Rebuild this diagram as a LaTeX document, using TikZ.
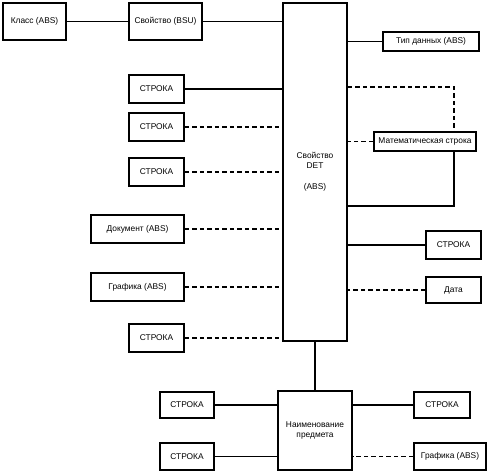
\documentclass[tikz,border=0pt]{standalone}
\usepackage{fontspec}
\setmainfont{Liberation Sans}
\begin{document}
\begin{tikzpicture}[x=1bp,y=-1bp,
  box/.style={draw, line width=1.9bp, inner sep=0pt, align=center, font=\fontsize{8.4}{10}\selectfont},
  conn/.style={line width=1.8bp},
  dsh/.style={line width=1.8bp, dash pattern=on 4.5bp off 3bp}]
\useasboundingbox (0,0) rectangle (489,473);
\node[box, minimum width=63bp, minimum height=37bp] (klass) at (34.5,21.5) {Класс (ABS)};
\node[box, minimum width=73bp, minimum height=37bp] (bsu) at (165.5,21.5) {Свойство (BSU)};
\node[box, minimum width=64bp, minimum height=338bp] (big) at (315,172) {Свойство\\DET\\[11pt](ABS)};
\node[box, minimum width=96bp, minimum height=19bp] (tip) at (431,41.5) {Тип данных (ABS)};
\node[box, minimum width=102bp, minimum height=19bp] (math) at (425,141.5) {Математическая строка};
\node[box, minimum width=55bp, minimum height=28bp] (s1) at (156.5,89) {СТРОКА};
\node[box, minimum width=55bp, minimum height=28bp] (s2) at (156.5,127) {СТРОКА};
\node[box, minimum width=55bp, minimum height=28bp] (s3) at (156.5,172) {СТРОКА};
\node[box, minimum width=93bp, minimum height=28bp] (dok) at (137.5,229) {Документ (ABS)};
\node[box, minimum width=93bp, minimum height=28bp] (graf) at (137.5,287) {Графика (ABS)};
\node[box, minimum width=55bp, minimum height=28bp] (s4) at (156.5,338) {СТРОКА};
\node[box, minimum width=55bp, minimum height=28bp] (sr) at (453.5,245) {СТРОКА};
\node[box, minimum width=55bp, minimum height=26bp] (data) at (453.5,290) {Дата};
\node[box, minimum width=74bp, minimum height=79bp] (naim) at (315,430.5) {Наименование\\предмета};
\node[box, minimum width=54bp, minimum height=26bp] (sbl1) at (187,405) {СТРОКА};
\node[box, minimum width=54bp, minimum height=27bp] (sbl2) at (187,456.5) {СТРОКА};
\node[box, minimum width=56bp, minimum height=26bp] (sbr) at (442,405) {СТРОКА};
\node[box, minimum width=72bp, minimum height=27bp] (grafr) at (450,456.5) {Графика (ABS)};
% connectors
\draw[conn] (klass.east) -- (bsu.west);
\draw[conn] (bsu.east) -- (bsu.east -| big.west);
\draw[conn] (s1.east) -- (s1.east -| big.west);
\draw[dsh] (s2.east) -- (s2.east -| big.west);
\draw[dsh] (s3.east) -- (s3.east -| big.west);
\draw[dsh] (dok.east) -- (dok.east -| big.west);
\draw[dsh] (graf.east) -- (graf.east -| big.west);
\draw[dsh] (s4.east) -- (s4.east -| big.west);
\draw[conn] (tip.west) -- (tip.west -| big.east);
\coordinate (m1) at (454,87);
\coordinate (m2) at (454,206);
\draw[dsh] (big.east |- m1) -- (m1) -- (m1 |- math.north);
\draw[dsh] (math.west) -- (math.west -| big.east);
\draw[conn] (m2 |- math.south) -- (m2) -- (m2 -| big.east);
\draw[conn] (sr.west) -- (sr.west -| big.east);
\draw[dsh] (data.west) -- (data.west -| big.east);
\draw[conn] (big.south) -- (naim.north);
\draw[conn] (sbl1.east) -- (sbl1.east -| naim.west);
\draw[conn] (sbl2.east) -- (sbl2.east -| naim.west);
\draw[conn] (sbr.west) -- (sbr.west -| naim.east);
\draw[dsh] (grafr.west) -- (grafr.west -| naim.east);
\end{tikzpicture}
\end{document}
